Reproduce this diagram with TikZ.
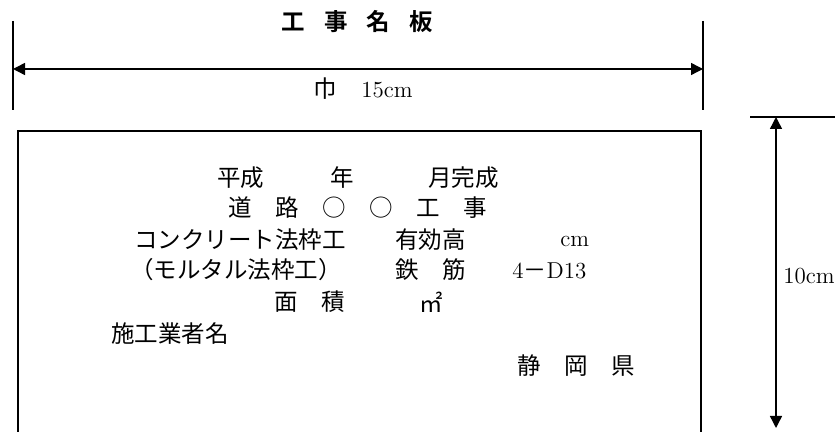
\documentclass[tikz,border=0pt]{standalone}
\usepackage{fontspec}
\newfontfamily\cjk{Noto Sans CJK JP}
\newfontfamily\cjkb{Noto Sans CJK JP Bold}
\usetikzlibrary{arrows.meta}
\begin{document}
\begin{tikzpicture}[x=0.5pt,y=-0.5pt,
  txt/.style={inner sep=0pt,anchor=west,font=\cjk\fontsize{11.75}{14}\selectfont},
  lat/.style={inner sep=0pt,anchor=west,font=\fontsize{11.5}{13}\selectfont},
  tick/.style={line width=1.4pt},
  boxline/.style={line width=1pt},
  dim/.style={line width=0.7pt,{Triangle[length=6pt,width=6pt]}-{Triangle[length=6pt,width=6pt]}}]
\useasboundingbox (0,0) rectangle (835,432);
% title
\node[inner sep=0pt,anchor=west,font=\cjkb\fontsize{11.75}{14}\selectfont] (title) at (281,22) {工\hspace{9.6pt}事\hspace{9.6pt}名\hspace{9.6pt}板};
% width dimension
\coordinate (lt) at (13,21); \coordinate (lb) at (13,110);
\coordinate (rt) at (703,21); \coordinate (rb) at (703,110);
\draw[tick] (lt) -- (lb);
\draw[tick] (rt) -- (rb);
\coordinate (la) at (13,69); \coordinate (ra) at (703,69);
\draw[dim] (la) -- (ra);
\node[txt] (haba) at (313,89) {巾};
\node[lat] (w15) at (361,90) {15cm};
% board outline (open at bottom)
\coordinate (b1) at (18,434); \coordinate (b2) at (18,131);
\coordinate (b3) at (701,131); \coordinate (b4) at (701,434);
\draw[boxline] (b1) -- (b2) -- (b3) -- (b4);
% height dimension
\coordinate (ht1) at (750,117); \coordinate (ht2) at (836,117);
\draw[tick] (ht1) -- (ht2);
\coordinate (va) at (776,117); \coordinate (vb) at (776,428);
\draw[dim] (va) -- (vb);
\node[lat] (h10) at (783,276) {10cm};
% board text
\node[txt] (l1a) at (217,178) {平成};
\node[txt] (l1b) at (330,178) {年};
\node[txt] (l1c) at (428,178) {月完成};
\node[txt] (l2) at (228,208) {道　路　○　○　工　事};
\node[txt] (l3a) at (134,240) {コンクリート法枠工};
\node[txt] (l3b) at (395,240) {有効高};
\node[lat] (l3c) at (560,241) {cm};
\node[txt] (l4a) at (130,270) {（モルタル法枠工）};
\node[txt] (l4b) at (395,270) {鉄　筋};
\node[lat] (l4c) at (512,271) {4{\cjk －}D13};
\node[txt] (l5a) at (274,302) {面　積};
\node[txt] (l5b) at (419,302) {㎡};
\node[txt] (l6) at (111,334) {施工業者名};
\node[txt] (l7) at (517,366) {静　岡　県};
\end{tikzpicture}
\end{document}
